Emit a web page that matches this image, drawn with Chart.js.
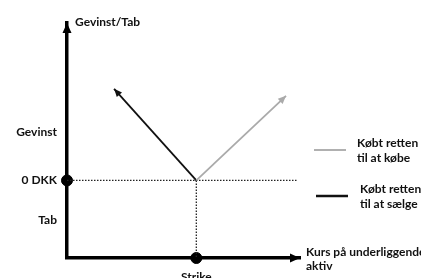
<!DOCTYPE html>
<html>
<head>
<meta charset="utf-8">
<script src="https://cdn.jsdelivr.net/npm/chart.js@4.4.0/dist/chart.umd.min.js"></script>
<style>
  html, body { margin: 0; padding: 0; background: #fff; }
  #wrap { width: 421px; height: 278px; }
</style>
</head>
<body>
<div id="wrap"><canvas id="payoffChart"></canvas></div>
<script>
// payoff diagram: long call / long put
const strike = 55.5;
const callLine = [{x: 55.5, y: 0}, {x: 94, y: 36}];
const putLine = [{x: 55.5, y: 0}, {x: 20.2, y: 39}];
const zeroLine = [{x: 0, y: 0}, {x: 98.7, y: 0}];
const strikeLine = [{x: 55.5, y: 0}, {x: 55.5, y: -33}];
const markers = [{x: 0, y: 0}, {x: 55.5, y: -33}];

const yTickValues = [20.6, 0, -16.8];
const yTickLabels = ['Gevinst', '0 DKK', 'Tab'];
const xTickValues = [strike];
const xTickLabels = ['Strike'];

const legendItems = [
  { lines: ['Købt retten', 'til at købe'], color: '#b0b0b0' },
  { lines: ['Købt retten', 'til at sælge'], color: '#111' }
];
const yAxisTitle = 'Gevinst/Tab';
const xAxisTitle = ['Kurs på underliggende', 'aktiv'];

const FAMILY = 'Lato, "Liberation Sans", sans-serif';
const FONT = 'bold 12px ' + FAMILY;

function arrowHead(ctx, x, y, angle, len, w, color) {
  ctx.save();
  ctx.translate(x, y);
  ctx.rotate(angle);
  ctx.fillStyle = color;
  ctx.beginPath();
  ctx.moveTo(0, 0);
  ctx.lineTo(-len, -w / 2);
  ctx.lineTo(-len, w / 2);
  ctx.closePath();
  ctx.fill();
  ctx.restore();
}

const decorations = {
  id: 'decorations',
  afterDatasetsDraw(chart) {
    const ctx = chart.ctx;
    const area = chart.chartArea;

    // line arrows
    [0, 1].forEach(i => {
      const pts = chart.getDatasetMeta(i).data;
      const a = pts[pts.length - 2], b = pts[pts.length - 1];
      const ang = Math.atan2(b.y - a.y, b.x - a.x);
      arrowHead(ctx, b.x, b.y, ang, 8, 7, chart.data.datasets[i].borderColor);
    });

    // axis arrows
    arrowHead(ctx, area.left, area.top, -Math.PI / 2, 10, 9, '#000');
    arrowHead(ctx, area.right, area.bottom, 0, 10, 9, '#000');

    ctx.save();
    ctx.font = FONT;
    ctx.fillStyle = '#111';
    ctx.textBaseline = 'middle';
    ctx.textAlign = 'left';
    ctx.fillText(yAxisTitle, area.left + 8, area.top - 1);
    ctx.fillText(xAxisTitle[0], area.right + 6, area.bottom - 6);
    ctx.fillText(xAxisTitle[1], area.right + 6, area.bottom + 8);

    // legend
    const legendPos = [{x: 314, y: 150, tx: 357, ty: 143}, {x: 316, y: 196, tx: 360, ty: 189}];
    legendItems.forEach((item, i) => {
      const p = legendPos[i];
      ctx.strokeStyle = item.color;
      ctx.lineWidth = i === 0 ? 2 : 2.5;
      ctx.beginPath();
      ctx.moveTo(p.x, p.y);
      ctx.lineTo(p.x + 32, p.y);
      ctx.stroke();
      ctx.fillText(item.lines[0], p.tx, p.ty);
      ctx.fillText(item.lines[1], p.tx, p.ty + 15);
    });
    ctx.restore();
  }
};

new Chart(document.getElementById('payoffChart'), {
  type: 'scatter',
  data: {
    datasets: [
      { data: callLine, showLine: true, borderColor: '#aaaaaa', borderWidth: 1.8, pointRadius: 0 },
      { data: putLine, showLine: true, borderColor: '#111111', borderWidth: 1.8, pointRadius: 0 },
      { data: zeroLine, showLine: true, borderColor: '#222', borderWidth: 1.3, borderDash: [1.5, 1.5], pointRadius: 0 },
      { data: strikeLine, showLine: true, borderColor: '#222', borderWidth: 1.3, borderDash: [1.5, 1.5], pointRadius: 0 },
      { data: markers, showLine: false, pointRadius: 5.5, backgroundColor: '#000', borderColor: '#000' }
    ]
  },
  options: {
    responsive: true,
    maintainAspectRatio: false,
    animation: false,
    events: [],
    clip: false,
    layout: { padding: { top: 23, right: 121, left: 0, bottom: 0 } },
    plugins: { legend: { display: false }, tooltip: { enabled: false } },
    scales: {
      x: {
        type: 'linear',
        min: 0,
        max: 100,
        afterFit: s => { s.height = 20; },
        afterBuildTicks: s => { s.ticks = xTickValues.map(v => ({ value: v })); },
        grid: { display: false, drawTicks: false },
        border: { display: true, color: '#000', width: 3.5 },
        ticks: {
          padding: 12,
          color: '#111',
          font: { family: FAMILY, size: 12, weight: 'bold' },
          maxRotation: 0,
          callback: (v, i) => xTickLabels[i]
        }
      },
      y: {
        type: 'linear',
        min: -33,
        max: 67,
        afterFit: s => { s.width = 67; },
        afterBuildTicks: s => { s.ticks = yTickValues.map(v => ({ value: v })); },
        grid: { display: false, drawTicks: false },
        border: { display: true, color: '#000', width: 3.5 },
        ticks: {
          padding: 10,
          color: '#111',
          font: { family: FAMILY, size: 12, weight: 'bold' },
          callback: (v, i) => yTickLabels[i]
        }
      }
    }
  },
  plugins: [decorations]
});
</script>
</body>
</html>
